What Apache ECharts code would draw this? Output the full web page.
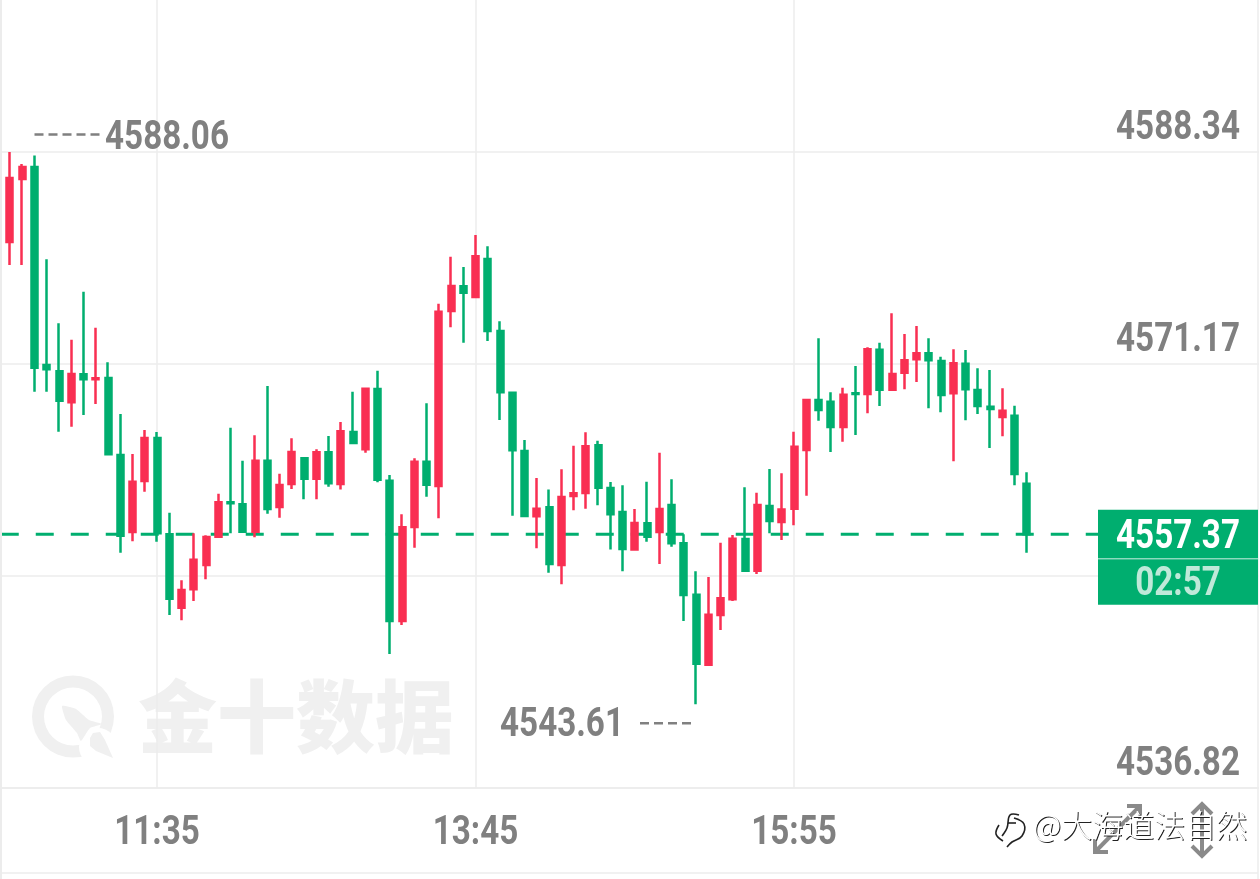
<!DOCTYPE html>
<html><head><meta charset="utf-8">
<style>html,body{margin:0;padding:0;background:#fff}#c{width:1260px;height:879px}</style>
<script src="https://cdn.jsdelivr.net/npm/echarts@6/dist/echarts.min.js"></script>
</head><body><div id="c"></div>
<script>
const opens=[4582.51,4581.05,4586.15,4587.12,4571.08,4570.57,4568.06,4570.33,4569.93,4570.03,4563.79,4557.56,4561.69,4565.17,4557.37,4551.42,4552.91,4554.88,4557.18,4559.96,4559.80,4557.58,4563.33,4559.58,4561.44,4563.53,4561.87,4564.01,4561.44,4565.66,4564.26,4569.14,4561.71,4550.35,4557.96,4563.25,4561.28,4575.46,4577.46,4576.59,4579.67,4573.84,4568.84,4564.12,4558.83,4559.56,4554.88,4560.47,4560.72,4564.58,4561.12,4559.18,4556.15,4558.26,4557.56,4559.74,4556.64,4552.48,4546.81,4550.83,4552.10,4556.99,4554.42,4559.66,4558.37,4559.44,4564.20,4568.25,4568.11,4566.06,4568.79,4568.74,4572.32,4569.08,4570.46,4571.55,4572.03,4571.41,4568.79,4571.19,4569.06,4567.71,4566.87,4566.98,4561.47];
const closes=[4581.05,4586.23,4587.12,4570.87,4570.74,4568.19,4570.36,4569.93,4570.01,4563.85,4557.26,4561.63,4565.17,4557.45,4552.15,4552.86,4555.31,4557.15,4559.96,4559.88,4557.58,4563.33,4559.42,4561.36,4564.04,4561.87,4564.01,4561.50,4565.71,4564.77,4569.16,4561.79,4550.35,4557.94,4563.25,4561.39,4575.40,4577.48,4576.94,4579.89,4573.84,4568.87,4564.17,4558.85,4559.44,4554.96,4560.39,4560.69,4564.50,4561.14,4558.99,4556.18,4558.29,4557.18,4559.42,4556.64,4552.45,4546.89,4550.86,4552.19,4557.01,4554.42,4559.74,4558.45,4559.39,4564.47,4568.25,4567.44,4566.06,4568.68,4568.74,4572.36,4569.08,4570.36,4571.47,4572.03,4571.47,4568.65,4571.22,4569.12,4567.76,4567.52,4567.38,4562.25,4557.37];
const lows=[4581.05,4579.19,4579.19,4568.92,4568.92,4565.68,4566.09,4567.03,4567.93,4563.85,4555.88,4556.80,4560.82,4556.77,4550.83,4550.40,4551.97,4553.72,4557.18,4557.45,4557.47,4557.13,4559.04,4558.71,4561.04,4560.21,4560.21,4561.23,4561.01,4564.77,4563.98,4561.58,4547.67,4550.02,4556.28,4560.42,4558.67,4574.14,4572.89,4576.49,4573.03,4566.63,4558.88,4558.85,4556.24,4554.26,4553.32,4559.31,4559.44,4559.72,4556.15,4554.37,4556.15,4556.77,4554.96,4556.37,4550.35,4543.61,4546.81,4549.62,4551.97,4554.42,4554.15,4557.45,4556.91,4558.10,4560.50,4566.57,4564.04,4564.87,4565.41,4567.17,4567.76,4569.08,4569.12,4569.71,4567.58,4567.25,4563.28,4566.60,4567.12,4564.36,4565.31,4561.34,4555.88];
const highs=[4582.51,4588.34,4587.37,4588.06,4579.65,4574.46,4573.13,4577.02,4574.11,4571.30,4567.12,4563.87,4565.82,4565.66,4559.12,4553.64,4557.45,4557.29,4560.66,4566.01,4563.33,4565.39,4569.38,4562.28,4565.15,4563.53,4564.26,4565.33,4566.47,4568.92,4569.20,4570.62,4562.17,4558.99,4563.53,4567.98,4576.05,4579.86,4579.02,4581.62,4580.70,4574.62,4568.92,4565.01,4561.93,4561.01,4562.64,4564.55,4565.63,4564.95,4561.61,4561.34,4559.42,4561.63,4563.98,4561.83,4557.37,4554.37,4553.91,4556.69,4557.31,4561.18,4560.74,4562.66,4562.31,4565.68,4568.25,4573.25,4568.87,4569.25,4571.00,4572.52,4572.89,4575.27,4573.60,4574.24,4573.25,4571.76,4572.36,4572.30,4570.82,4570.68,4569.20,4567.79,4562.39];
const yTicks=[4536.82,4553.99,4571.17,4588.34];
const xTickLabels=['11:35','13:45','15:55'];
const lastPrice=4557.37, countdown='02:57';
const highestPrice=4588.06, lowestPrice=4543.61;

const FONT='Roboto,"Liberation Sans",sans-serif';
const GREY='#808080',GREEN='#00ae6f',RED='#f92f52',LINE='#ececec';
const pad=n=>String(n).padStart(2,'0');
const categories=[];
for(let i=0;i<104;i++){const m=10*60+30+5*i;categories.push(pad(Math.floor(m/60)%24)+':'+pad(m%60));}
const candles=opens.map((o,i)=>[o,closes[i],lows[i],highs[i]]);
const priceLine=categories.slice(0,92).map(()=>lastPrice);
const step=17.1733;
const isTick=i=>xTickLabels.includes(categories[i]);
const chart=echarts.init(document.getElementById('c'),null,{renderer:'canvas'});
chart.setOption({
  animation:false,backgroundColor:'#fff',
  grid:{left:-2.25,top:-60,width:1261.75,height:848,containLabel:false,outerBoundsMode:'none'},
  xAxis:{type:'category',data:categories,boundaryGap:false,
    axisLine:{show:true,lineStyle:{color:LINE,width:1.5}},axisTick:{show:false},
    axisLabel:{show:false},
    splitLine:{show:true,interval:i=>isTick(i),lineStyle:{color:LINE,width:1.5}}},
  yAxis:{type:'value',position:'right',min:yTicks[0],max:yTicks[0]+4*step,interval:step,scale:true,
    axisLine:{show:false},axisTick:{show:false},axisLabel:{show:false},
    splitLine:{show:true,lineStyle:{color:LINE,width:1.5}}},
  series:[
    {type:'line',z:1,data:priceLine,symbol:'none',silent:true,lineStyle:{color:GREEN,width:3,type:[18,17],dashOffset:32}},
    {type:'candlestick',z:2,data:candles,barWidth:6.5,itemStyle:{color:RED,color0:GREEN,borderColor:RED,borderColor0:GREEN,borderWidth:2.5}}
  ]
});
const px=(i,v)=>chart.convertToPixel({gridIndex:0},[i,v]);
const hiP=px(3,highestPrice), loP=px(57,lowestPrice), lastY=px(0,lastPrice)[1];
const SX=0.83;
const mono=(x,y,text,fill,z)=>({type:'text',z:z||60,x,y,scaleX:SX,style:{x:0,y:0,text,fill,font:'bold 40px '+FONT,textAlign:'center',textVerticalAlign:'middle'}});
const dash=(x1,y,x2)=>({type:'line',z:100,shape:{x1,y1:y,x2,y2:y},style:{stroke:GREY,lineWidth:2.5,lineDash:[9,5]}});
const poly=(pts)=>({type:'polyline',z:100,shape:{points:pts},style:{stroke:'#8a8a8a',lineWidth:4,fill:null}});
const wm='#f0f0f0';
const mark=(x,y,fill,z)=>({type:'text',z,style:{x,y,text:'@大海道法自然',fill,font:'300 31px "Noto Sans CJK SC"',textAlign:'left',textVerticalAlign:'middle'}});
const swirl=(pts)=>({type:'polyline',z:110,shape:{points:pts,smooth:0.4},style:{stroke:'#222',lineWidth:1.6,fill:null}});
const yLabels=yTicks.map(v=>mono(1178,px(0,v)[1]-23,v.toFixed(2),GREY));
const xLabels=xTickLabels.map(t=>mono(px(categories.indexOf(t),yTicks[0])[0],834,t,GREY));
chart.setOption({graphic:{elements:[
  {type:'ring',z:-1,shape:{cx:73,cy:716.5,r:41,r0:29},style:{fill:wm}},
  {type:'circle',z:-0.9,shape:{cx:98,cy:747,r:19},style:{fill:'#fff'}},
  {type:'polygon',z:-0.8,shape:{smooth:0.15,points:[[62,706],[76,709],[89,720],[102,724],[90,728],[81,741],[77,733],[66,720]]},style:{fill:wm}},
  {type:'polygon',z:-0.8,shape:{points:[[90,738],[93,733],[100,732],[105,740],[113,758],[96,751],[90,746]]},style:{fill:wm}},
  {type:'text',z:-0.8,style:{x:138,y:717,text:'金十数据',fill:wm,font:'900 79px "Noto Sans CJK SC"',textAlign:'left',textVerticalAlign:'middle'}},
  {type:'line',z:50,shape:{x1:1,y1:0,x2:1,y2:879},style:{stroke:LINE,lineWidth:2}},
  {type:'line',z:50,shape:{x1:0,y1:873,x2:1258,y2:873},style:{stroke:LINE,lineWidth:1.5}},
  {type:'line',z:50,shape:{x1:1258,y1:0,x2:1258,y2:879},style:{stroke:LINE,lineWidth:1.5}},
  {type:'rect',z:51,shape:{x:1259,y:0,width:2,height:879},style:{fill:'#fff'}},
  ...yLabels,...xLabels,
  dash(hiP[0],hiP[1]-21,hiP[0]+65),
  mono(167,hiP[1]-16,highestPrice.toFixed(2),GREY),
  mono(562,loP[1]+22,lowestPrice.toFixed(2),GREY),
  dash(640,loP[1]+19,691),
  {type:'rect',z:100,shape:{x:1098,y:lastY-24.5,width:160,height:95},style:{fill:GREEN}},
  {type:'line',z:101,shape:{x1:1098,y1:lastY+24.5,x2:1258,y2:lastY+24.5},style:{stroke:'#cfeee2',lineWidth:1}},
  mono(1178,lastY+4,lastPrice.toFixed(2),'#fff',102),
  mono(1178,lastY+51,countdown,'#bfe9d9',102),
  poly([[1095,852],[1140,806]]),poly([[1127,806],[1140,806],[1140,819]]),poly([[1095,839],[1095,852],[1108,852]]),
  poly([[1202,804],[1202,856]]),poly([[1192,814],[1202,804],[1212,814]]),poly([[1192,846],[1202,856],[1212,846]]),
  mark(1034,826,'#222',110),
  mark(1033,825,'#fff',111),
  swirl([[1019,815],[1010,815],[1007,828],[1002,836]]),
  swirl([[1014,818],[1024,824],[1022,836],[1012,842],[1007,847]]),
  swirl([[999,825],[996,834],[1003,841]]),
  swirl([[1008,823],[1016,823]])
]}});
</script></body></html>
